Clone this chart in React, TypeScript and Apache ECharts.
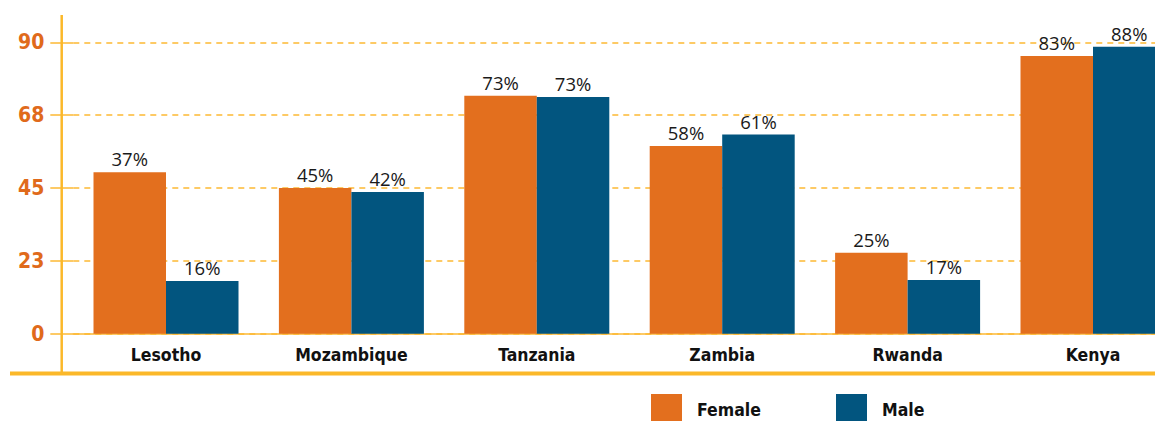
import React, { useEffect, useRef } from "react";
import * as echarts from "echarts";

const categories = ["Lesotho", "Mozambique", "Tanzania", "Zambia", "Rwanda", "Kenya"];
const femaleValues = [49.9, 45.0, 73.5, 58.0, 25.0, 85.8];
const maleValues = [16.3, 43.8, 73.1, 61.5, 16.6, 88.6];
const femaleLabels = ["37%", "45%", "73%", "58%", "25%", "83%"];
const maleLabels = ["16%", "42%", "73%", "61%", "17%", "88%"];
const yMin = 0;
const yMax = 90;
const yInterval = 22.5;

const ORANGE = "#E36F1E";
const BLUE = "#02557F";
const YELLOW = "#FDB933";
const TICK_ORANGE = "#E06A1B";
const condensed = "'Liberation Sans Narrow', 'DejaVu Sans Condensed', sans-serif";
const boldFont = "'DejaVu Sans Condensed', 'Liberation Sans Narrow', sans-serif";

export default function App() {
  const ref = useRef<HTMLDivElement>(null);
  useEffect(() => {
    document.body.style.margin = "0";
    if (!ref.current) return;
    const chart = echarts.init(ref.current, null, { renderer: "svg" });
    const barLabel = (labels: string[]) => ({
      show: true,
      position: "top",
      distance: 4,
      fontFamily: "'Open Sans', sans-serif",
      fontSize: 18.5,
      color: "#1a1a1a",
      formatter: (p: any) => labels[p.dataIndex],
    });
    const legendBase = {
      top: 394,
      itemWidth: 31,
      itemHeight: 31,
      padding: 0,
      icon: "rect",
      selectedMode: false,
      textStyle: {
        fontFamily: boldFont,
        fontWeight: "bold",
        fontSize: 17.5,
        color: "#111",
        padding: [0, 0, 0, 10],
      },
    };
    chart.setOption({
      animation: false,
      grid: { left: 73.3, top: 42.3, width: 1112.4, height: 291.4, containLabel: false },
      legend: [
        { ...legendBase, left: 651, data: ["Female"] },
        { ...legendBase, left: 836, data: ["Male"] },
      ],
      xAxis: {
        type: "category",
        data: categories,
        axisLine: { show: true, lineStyle: { color: YELLOW, width: 1.5 } },
        axisTick: { show: false },
        axisLabel: {
          margin: 12,
          fontFamily: boldFont,
          fontWeight: "bold",
          fontSize: 17.5,
          color: "#111",
        },
      },
      yAxis: {
        type: "value",
        min: yMin,
        max: yMax,
        interval: yInterval,
        axisLine: { show: false },
        axisTick: { show: true, length: 23, lineStyle: { color: YELLOW, width: 1.5 } },
        axisLabel: {
          margin: 29,
          fontFamily: condensed,
          fontWeight: "bold",
          fontSize: 21,
          color: TICK_ORANGE,
          formatter: (v: number) => String(Math.round(v)),
        },
        splitLine: { show: true, lineStyle: { color: YELLOW, width: 1.5, type: [6, 5] } },
      },
      series: [
        {
          name: "Female",
          type: "bar",
          data: femaleValues,
          barWidth: 72.5,
          barGap: "0%",
          itemStyle: { color: ORANGE },
          label: barLabel(femaleLabels),
        },
        {
          name: "Male",
          type: "bar",
          data: maleValues,
          barWidth: 72.5,
          barGap: "0%",
          itemStyle: { color: BLUE },
          label: barLabel(maleLabels),
        },
      ],
      graphic: [
        {
          type: "line",
          shape: { x1: 10, y1: 373.5, x2: 1200, y2: 373.5 },
          style: { stroke: "#FBB829", lineWidth: 4 },
          z: 10,
        },
        {
          type: "line",
          shape: { x1: 61.7, y1: 15, x2: 61.7, y2: 372 },
          style: { stroke: "#FBB829", lineWidth: 2.5 },
          z: 10,
        },
      ],
    });
    return () => chart.dispose();
  }, []);
  return (
    <div style={{ width: 1155, height: 421, overflow: "hidden", position: "relative" }}>
      <div ref={ref} style={{ width: 1200, height: 421 }} />
    </div>
  );
}
